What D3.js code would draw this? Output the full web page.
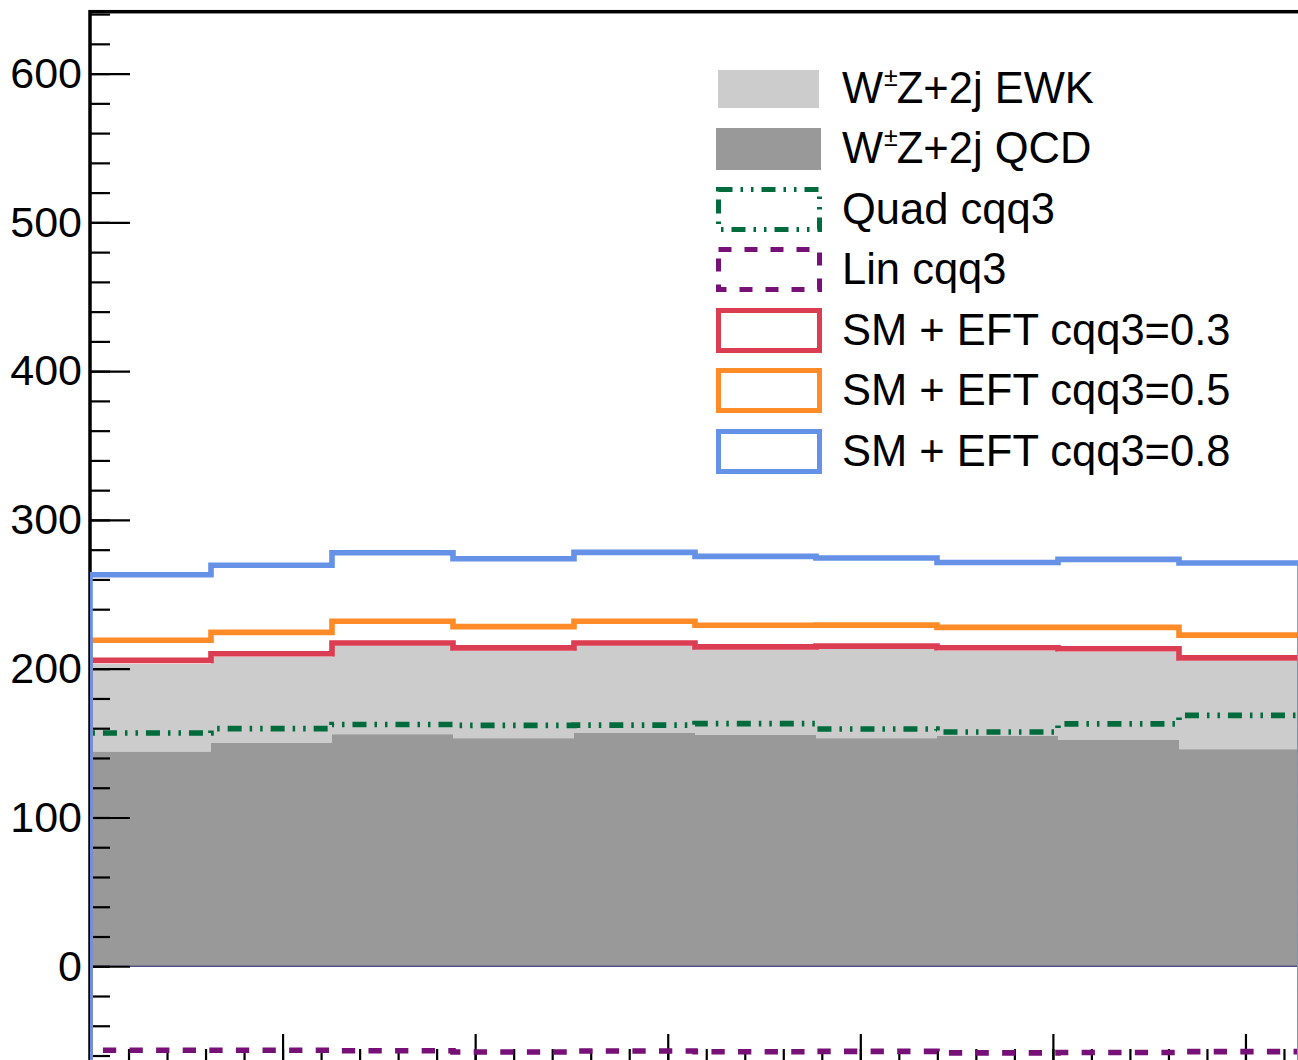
<!DOCTYPE html>
<html>
<head>
<meta charset="utf-8">
<script src="https://d3js.org/d3.v7.min.js"></script>
<style>
  body { margin:0; background:#fff; overflow:hidden; }
  text { font-family: "Liberation Sans", Arial, sans-serif; }
</style>
</head>
<body>
<script>
// bin contents, 10 bins on [0, 2pi]
var qcd   = [144.1, 150.0, 156.0, 153.3, 156.7, 155.5, 153.3, 154.7, 152.0, 145.9];
var ewk   = [59.0, 58.0, 59.4, 58.7, 58.7, 57.2, 60.1, 57.3, 59.4, 59.4];
var quad  = [156.8, 159.7, 162.5, 161.9, 162.1, 163.1, 159.5, 157.5, 162.9, 168.6];
var lin   = [-56.5, -56.5, -56.8, -57.6, -57.0, -57.5, -57.2, -58.2, -58.0, -57.4];
var eft03 = [205.6, 210.0, 217.3, 214.0, 217.3, 214.7, 215.2, 214.1, 213.4, 207.3];
var eft05 = [219.1, 224.4, 231.9, 228.3, 231.9, 229.2, 229.3, 227.8, 227.8, 222.6];
var eft08 = [263.1, 269.5, 277.9, 273.9, 278.2, 275.5, 274.4, 271.4, 273.5, 271.0];
var yTicks = [0, 100, 200, 300, 400, 500, 600];
var xTicks = [1, 2, 3, 4, 5, 6];
var legendLabels = ["EWK", "QCD", "Quad cqq3", "Lin cqq3", "SM + EFT cqq3=0.3", "SM + EFT cqq3=0.5", "SM + EFT cqq3=0.8"];

var width = 1298, height = 1060;
var frame = {left: 90, right: 1300, top: 11.7, bottom: 1064};
var nBins = 10, xMax = 2 * Math.PI;
var yMin = -65.7, yMax = 641.6;

var x = d3.scaleLinear().domain([0, xMax]).range([frame.left, frame.right]);
var y = d3.scaleLinear().domain([yMin, yMax]).range([frame.bottom, frame.top]);
var edges = d3.range(nBins + 1).map(function (i) { return i * xMax / nBins; });

var svg = d3.select("body").append("svg")
    .attr("width", width)
    .attr("height", height);

svg.append("defs").append("clipPath").attr("id", "plotclip")
    .append("rect")
    .attr("x", frame.left).attr("y", frame.top)
    .attr("width", frame.right - frame.left).attr("height", frame.bottom - frame.top);

// step helpers
function stepPoints(vals, base) {
    var pts = [[x(0), y(base)]];
    vals.forEach(function (v, i) {
        pts.push([x(edges[i]), y(v)]);
        pts.push([x(edges[i + 1]), y(v)]);
    });
    pts.push([x(xMax), y(base)]);
    return pts;
}
var line = d3.line();

function areaBins(lo, hi) {
    var pts = [];
    hi.forEach(function (v, i) {
        pts.push({x: edges[i], lo: lo[i], hi: v});
        pts.push({x: edges[i + 1], lo: lo[i], hi: v});
    });
    return pts;
}
var area = d3.area()
    .x(function (d) { return x(d.x); })
    .y0(function (d) { return y(d.lo); })
    .y1(function (d) { return y(d.hi); });

var plot = svg.append("g").attr("clip-path", "url(#plotclip)");

// stacked fills
var zeros = qcd.map(function () { return 0; });
var total = qcd.map(function (v, i) { return v + ewk[i]; });
plot.append("path").attr("d", area(areaBins(qcd, total))).attr("fill", "#cccccc");
plot.append("path").attr("d", area(areaBins(zeros, qcd))).attr("fill", "#999999");
plot.append("line")
    .attr("x1", x(0)).attr("x2", x(xMax))
    .attr("y1", y(0)).attr("y2", y(0))
    .attr("stroke", "#1c1c70").attr("stroke-width", 1);

// axes
var yAxisMinor = d3.axisLeft(y)
    .tickValues(d3.range(-60, 641, 20))
    .tickSize(-20).tickFormat("");
var yAxis = d3.axisLeft(y)
    .tickValues(yTicks)
    .tickSize(-40).tickPadding(8);
var xAxisMinor = d3.axisBottom(x)
    .tickValues(d3.range(1, 32).map(function (i) { return i * 0.2; }))
    .tickSize(-15).tickFormat("");
var xAxis = d3.axisBottom(x)
    .tickValues(xTicks)
    .tickSize(-30).tickFormat("");

function styleAxis(g) {
    g.select(".domain").remove();
    g.selectAll(".tick line").attr("stroke", "#000").attr("stroke-width", 2.2);
}

svg.append("g").attr("transform", "translate(" + frame.left + ",0)").call(yAxisMinor).call(styleAxis);
svg.append("g").attr("transform", "translate(" + frame.left + ",0)").call(yAxis).call(styleAxis)
    .selectAll("text")
    .attr("font-size", 43)
    .attr("fill", "#000")
    .style("font-family", "'Liberation Sans', Arial, sans-serif");
svg.append("g").attr("transform", "translate(0," + frame.bottom + ")").call(xAxisMinor).call(styleAxis);
svg.append("g").attr("transform", "translate(0," + frame.bottom + ")").call(xAxis).call(styleAxis);

// frame
svg.append("rect")
    .attr("x", frame.left).attr("y", frame.top)
    .attr("width", frame.right - frame.left).attr("height", frame.bottom - frame.top)
    .attr("fill", "none").attr("stroke", "#000").attr("stroke-width", 3.5);

// line histograms
var hists = [
    {vals: quad,  color: "#006b3c", dash: "14,8,2.5,8,2.5,8"},
    {vals: lin,   color: "#771177", dash: "13.3,13.3"},
    {vals: eft03, color: "#db3d53", dash: null},
    {vals: eft05, color: "#fd8c28", dash: null},
    {vals: eft08, color: "#6591e6", dash: null}
];
var lines = svg.append("g").attr("clip-path", "url(#plotclip)");
hists.forEach(function (h) {
    lines.append("path")
        .attr("d", line(stepPoints(h.vals, yMin)))
        .attr("fill", "none")
        .attr("stroke", h.color)
        .attr("stroke-width", 5.6)
        .attr("stroke-dasharray", h.dash);
});

// legend
var leg = svg.append("g");
var rowY = [88, 148, 209, 269, 330, 390, 451];
var textX = 842;
var legFont = 43.5;

leg.append("rect").attr("x", 718).attr("y", 70).attr("width", 101).attr("height", 38).attr("fill", "#cccccc");
leg.append("rect").attr("x", 716).attr("y", 128).attr("width", 105).attr("height", 42).attr("fill", "#999999");

var boxStyles = [
    {row: 2, color: "#006b3c", dash: "14,8,2.5,8,2.5,8"},
    {row: 3, color: "#771177", dash: "13,13"},
    {row: 4, color: "#db3d53", dash: null},
    {row: 5, color: "#fd8c28", dash: null},
    {row: 6, color: "#6591e6", dash: null}
];
boxStyles.forEach(function (b) {
    leg.append("rect")
        .attr("x", 718.5).attr("y", rowY[b.row] - 19.5)
        .attr("width", 101).attr("height", 40)
        .attr("fill", "none")
        .attr("stroke", b.color)
        .attr("stroke-width", 5)
        .attr("stroke-dasharray", b.dash);
});

// W±Z+2j entries with superscript
[0, 1].forEach(function (r) {
    var t = leg.append("text")
        .attr("x", textX).attr("y", rowY[r] + 15)
        .attr("font-size", legFont).attr("fill", "#000");
    t.append("tspan").text("W");
    t.append("tspan").attr("dy", -17).attr("font-size", 25).attr("dx", 1).text("\u00b1");
    t.append("tspan").attr("dy", 17).attr("dx", -1).text("Z+2j " + legendLabels[r]);
});
legendLabels.slice(2).forEach(function (lab, i) {
    leg.append("text")
        .attr("x", textX).attr("y", rowY[i + 2] + 15)
        .attr("font-size", legFont).attr("fill", "#000")
        .text(lab);
});
</script>
</body>
</html>
